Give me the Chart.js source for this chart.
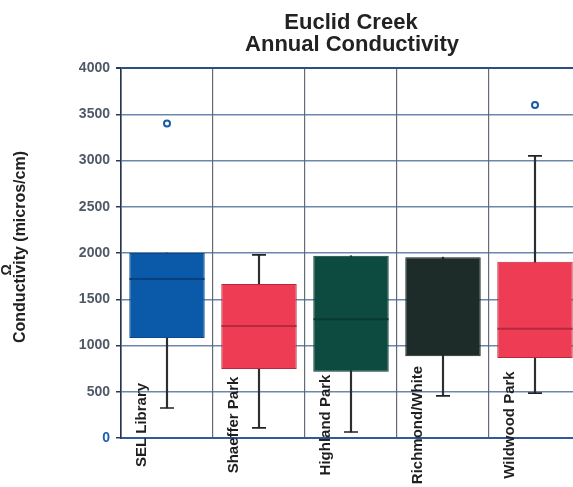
<!DOCTYPE html>
<html>
<head>
<meta charset="utf-8">
<title>Euclid Creek Annual Conductivity</title>
<script src="https://cdn.jsdelivr.net/npm/chart.js@4/dist/chart.umd.min.js"></script>
<style>
  html, body { margin: 0; padding: 0; background: #ffffff; overflow: hidden; }
  #wrap { position: absolute; left: 0; top: 0; width: 573px; height: 487px; overflow: hidden; }
  canvas { display: block; }
</style>
</head>
<body>
<div id="wrap"><canvas id="chart" width="590" height="487"></canvas></div>
<script>
// Sampling sites along Euclid Creek
const categories = ['SEL Library', 'Shaeffer Park', 'Highland Park', 'Richmond/White', 'Wildwood Park'];

// Box plot statistics, conductivity in micros/cm
const lowerQuartile = [1080, 745, 715, 885, 865];
const upperQuartile = [2000, 1665, 1970, 1955, 1905];
const medians       = [1720, 1210, 1285, null, 1180];
const whiskerLow    = [325, 110, 65, 455, 485];
const whiskerHigh   = [null, 1980, null, null, 3050];
const outliers      = [3400, null, null, null, 3600];

// Y axis tick values
const yTicks = [0, 500, 1000, 1500, 2000, 2500, 3000, 3500, 4000];

const boxColors    = ['#0b59a9', '#ef3c55', '#0d4a3f', '#1d2c29', '#ef3c55'];
const boxEdges     = ['#0a4a8c', '#b8283d', '#0a3a31', '#151f1d', '#b8283d'];
const medianColors = ['#0a3f7d', '#b52a3f', '#0a3a30', '#151f1d', '#b52a3f'];

const FONT = "'Liberation Sans', Arial, sans-serif";

// Titles and rotated site names drawn on the canvas
const textPlugin = {
  id: 'chartText',
  afterDatasetsDraw(chart) {
    const { ctx, scales } = chart;
    ctx.save();
    ctx.fillStyle = '#1f1f1f';
    ctx.textAlign = 'center';
    ctx.textBaseline = 'middle';
    ctx.font = 'bold 15px ' + FONT;
    categories.forEach((name, i) => {
      const x = scales.x.getPixelForValue(i) - 25;
      ctx.save();
      ctx.translate(x, 425);
      ctx.rotate(-Math.PI / 2);
      ctx.fillText(name, 0, 0);
      ctx.restore();
    });
    ctx.restore();
  },
  afterDraw(chart) {
    const { ctx, chartArea } = chart;
    ctx.save();
    ctx.fillStyle = '#222222';
    ctx.textAlign = 'center';
    ctx.textBaseline = 'alphabetic';
    ctx.font = 'bold 22px ' + FONT;
    const cx = (chartArea.left + chartArea.right) / 2;
    ctx.fillText('Euclid Creek', cx, 29);
    ctx.fillText('Annual Conductivity', cx + 1, 51);

    // Y axis title
    ctx.textBaseline = 'middle';
    ctx.font = 'bold 16px ' + FONT;
    ctx.translate(21, 247);
    ctx.rotate(-Math.PI / 2);
    ctx.fillText('Conductivity (micros/cm)', 0, 0);
    ctx.font = 'bold 14px ' + FONT;
    ctx.fillText('Ω', -23, -14);
    ctx.restore();
  }
};

const pairs = (a, b) => a.map((v, i) => [v, b[i]]);

new Chart(document.getElementById('chart'), {
  type: 'bar',
  data: {
    labels: categories,
    datasets: [
      {
        // whisker stems
        label: 'range',
        data: categories.map((c, i) => [whiskerLow[i], whiskerHigh[i] ?? upperQuartile[i]]),
        backgroundColor: '#2e2e2e',
        barThickness: 1.5,
        grouped: false,
        order: 4
      },
      {
        label: 'box',
        data: pairs(lowerQuartile, upperQuartile),
        backgroundColor: boxColors,
        borderColor: boxEdges,
        borderWidth: 1,
        borderSkipped: false,
        barPercentage: 0.82,
        categoryPercentage: 1,
        grouped: false,
        order: 3
      },
      {
        label: 'median',
        type: 'line',
        data: medians,
        showLine: false,
        pointStyle: 'line',
        pointRadius: 37.5,
        pointBorderWidth: 2,
        pointBorderColor: medianColors,
        order: 2
      },
      {
        label: 'lower cap',
        type: 'line',
        data: whiskerLow,
        showLine: false,
        pointStyle: 'line',
        pointRadius: 7,
        pointBorderWidth: 1.6,
        pointBorderColor: '#222222',
        order: 1
      },
      {
        label: 'upper cap',
        type: 'line',
        data: whiskerHigh,
        showLine: false,
        pointStyle: 'line',
        pointRadius: 7,
        pointBorderWidth: 1.6,
        pointBorderColor: '#222222',
        order: 1
      },
      {
        label: 'outlier',
        type: 'line',
        data: outliers,
        showLine: false,
        pointStyle: 'circle',
        pointRadius: 3,
        pointBorderWidth: 2,
        pointBorderColor: '#1b5aa6',
        pointBackgroundColor: '#ffffff',
        order: 0
      }
    ]
  },
  options: {
    responsive: false,
    animation: false,
    events: [],
    layout: { autoPadding: false, padding: { top: 68, bottom: 49, left: 0, right: 9 } },
    plugins: {
      legend: { display: false },
      tooltip: { enabled: false },
      title: { display: false }
    },
    scales: {
      x: {
        type: 'category',
        offset: true,
        grid: {
          offset: true,
          drawTicks: false,
          color: 'rgba(60,70,85,0.8)',
          lineWidth: 1.2
        },
        border: { display: true, color: '#2f5b98', width: 2 },
        ticks: { display: false },
        afterFit(s) { s.height = 0; }
      },
      y: {
        min: 0,
        max: 4000,
        afterBuildTicks(s) { s.ticks = yTicks.map(v => ({ value: v })); },
        grid: {
          color: ctx => ctx.tick && ctx.tick.value === 4000 ? '#2b4f82' : 'rgba(70,105,150,0.8)',
          lineWidth: ctx => ctx.tick && ctx.tick.value === 4000 ? 2 : 1.5,
          tickLength: 5,
          tickColor: '#2a3a55'
        },
        border: { display: true, color: '#26354f', width: 1.6 },
        ticks: {
          padding: 6,
          font: { family: FONT, size: 14, weight: 'bold' },
          color: ctx => ctx.tick.value === 0 ? '#1d5fb0' : '#4f5967',
          callback: v => String(v)
        },
        afterFit(s) { s.width = 121; }
      }
    }
  },
  plugins: [textPlugin]
});
</script>
</body>
</html>
